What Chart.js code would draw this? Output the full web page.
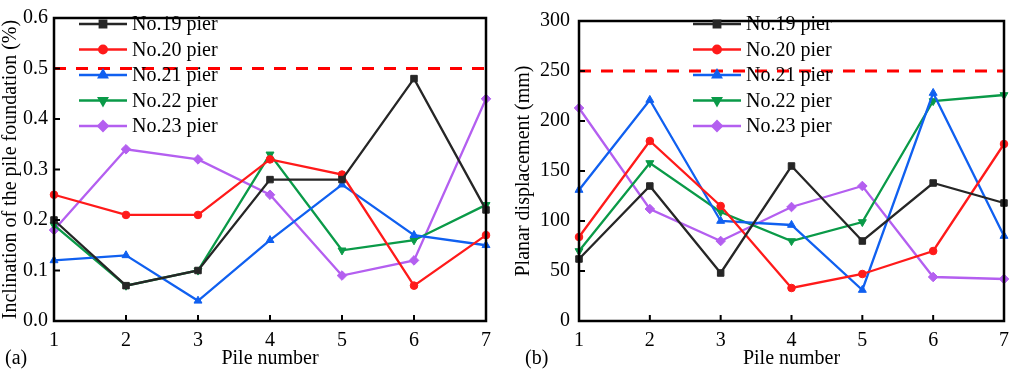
<!DOCTYPE html>
<html>
<head>
<meta charset="utf-8">
<script src="https://cdn.jsdelivr.net/npm/chart.js@4.4.1/dist/chart.umd.min.js"></script>
<style>
    html, body { margin: 0; padding: 0; background: #fff; font-family: "Liberation Serif", serif; }
    #wrap { position: relative; width: 1017px; height: 373px; overflow: hidden; }
    #boxA { position: absolute; left: 0; top: 0; width: 505px; height: 373px; }
    #boxB { position: absolute; left: 505px; top: 0; width: 512px; height: 373px; }
    #aquece { position: absolute; left: -999px; top: 0; font: 20px "Liberation Serif"; }
</style>
</head>
<body>
<div id="wrap">
    <div id="boxA"><canvas id="graficoInclinacao" width="505" height="373"></canvas></div>
    <div id="boxB"><canvas id="graficoDeslocamento" width="512" height="373"></canvas></div>
</div>
<span id="aquece">Pile number 0.123456789</span>
<script>
// --- Dados ---
const pileNumbers = ['1', '2', '3', '4', '5', '6', '7'];
const pierNames = ['No.19 pier', 'No.20 pier', 'No.21 pier', 'No.22 pier', 'No.23 pier'];

// (a) inclinação (%)
const incl19 = [0.20, 0.07, 0.10, 0.28, 0.28, 0.48, 0.22];
const incl20 = [0.25, 0.21, 0.21, 0.32, 0.29, 0.07, 0.17];
const incl21 = [0.12, 0.13, 0.04, 0.16, 0.27, 0.17, 0.15];
const incl22 = [0.19, 0.07, 0.10, 0.33, 0.14, 0.16, 0.23];
const incl23 = [0.18, 0.34, 0.32, 0.25, 0.09, 0.12, 0.44];
const inclLimit = 0.5;

// (b) deslocamento planar (mm)
const desl19 = [62, 135, 48, 155, 80, 138, 118];
const desl20 = [84, 180, 115, 33, 47, 70, 177];
const desl21 = [131, 221, 100, 96, 31, 228, 85];
const desl22 = [70, 158, 109, 80, 99, 220, 226];
const desl23 = [213, 112, 80, 114, 135, 44, 42];
const deslLimit = 250;

// --- Estilo ---
const SERIF = '"Liberation Serif", "Times New Roman", serif';
const pierColors = ['#262626', '#ff1a1a', '#1060f0', '#0a9a48', '#b45ff0'];
const pierMarkers = ['rect', 'circle', 'triangle', 'triangle', 'rectRot'];
const pierRotation = [0, 0, 0, 180, 0];
const pierRadius = [4.6, 3.8, 4.6, 4.6, 4.8];

function montarSeries(series) {
    return series.map((vals, i) => ({
        label: pierNames[i],
        data: vals,
        borderColor: pierColors[i],
        backgroundColor: pierColors[i],
        borderWidth: 2.3,
        pointStyle: pierMarkers[i],
        pointRotation: pierRotation[i],
        pointRadius: pierRadius[i],
        pointBorderWidth: 1,
        tension: 0
    }));
}

// moldura, ticks internos, linha limite, legenda e rótulo do painel
const moldura = {
    id: 'moldura',
    beforeDatasetsDraw(chart, args, o) {
        const { ctx, chartArea: a } = chart;
        const py = chart.scales.y.getPixelForValue(o.limite);
        ctx.save();
        ctx.strokeStyle = '#ff0000';
        ctx.lineWidth = 3;
        ctx.setLineDash([12, 10]);
        ctx.beginPath();
        ctx.moveTo(a.left, py);
        ctx.lineTo(a.right, py);
        ctx.stroke();
        ctx.restore();
    },
    afterDraw(chart, args, o) {
        const { ctx, chartArea: a } = chart;
        const x = chart.scales.x, y = chart.scales.y;
        ctx.save();
        ctx.strokeStyle = '#000';
        ctx.lineWidth = 2.5;
        ctx.strokeRect(a.left, a.top, a.right - a.left, a.bottom - a.top);
        ctx.lineWidth = 2;
        ctx.beginPath();
        x.ticks.forEach((t, i) => {
            const px = x.getPixelForTick(i);
            ctx.moveTo(px, a.bottom);
            ctx.lineTo(px, a.bottom - 6);
        });
        y.ticks.forEach((t, i) => {
            const py = y.getPixelForTick(i);
            ctx.moveTo(a.left, py);
            ctx.lineTo(a.left + 6, py);
        });
        ctx.stroke();

        // legenda
        ctx.font = '20px ' + SERIF;
        ctx.textBaseline = 'middle';
        ctx.textAlign = 'left';
        chart.data.datasets.forEach((ds, i) => {
            const ly = o.legendaY + i * 25.5;
            ctx.strokeStyle = ds.borderColor;
            ctx.fillStyle = ds.borderColor;
            ctx.lineWidth = 2.3;
            ctx.beginPath();
            ctx.moveTo(o.legendaX, ly);
            ctx.lineTo(o.legendaX + 48, ly);
            ctx.stroke();
            Chart.helpers.drawPoint(ctx, {
                pointStyle: ds.pointStyle, radius: ds.pointRadius,
                rotation: ds.pointRotation, borderWidth: 1
            }, o.legendaX + 24, ly);
            ctx.fillStyle = '#000';
            ctx.fillText(ds.label, o.legendaX + 53, ly + 1);
        });

        ctx.fillStyle = '#000';
        ctx.fillText(o.painel, o.painelX, 359);
        ctx.restore();
    }
};

function montarOpcoes(cfg) {
    return {
        responsive: false,
        animation: false,
        devicePixelRatio: 1,
        layout: { padding: { top: 9, right: cfg.direita, left: 0, bottom: 0 } },
        plugins: {
            legend: { display: false },
            tooltip: { enabled: false },
            moldura: { limite: cfg.limite, legendaX: cfg.legendaX, legendaY: 24, painel: cfg.painel, painelX: cfg.painelX }
        },
        scales: {
            x: {
                offset: false,
                grid: { display: false, drawTicks: false },
                border: { display: false },
                ticks: { color: '#000', font: { family: SERIF, size: 20 }, padding: 8, maxRotation: 0 },
                title: { display: true, text: 'Pile number', color: '#000',
                         font: { family: SERIF, size: 20, lineHeight: 1 }, padding: { top: 0, bottom: 4 } },
                afterFit(s) { s.height = 52; }
            },
            y: {
                min: 0, max: cfg.max,
                grid: { display: false, drawTicks: false },
                border: { display: false },
                ticks: { stepSize: cfg.passo, color: '#000', font: { family: SERIF, size: 20 },
                         padding: cfg.tickPad, callback: cfg.formato },
                title: { display: true, text: cfg.tituloY, color: '#000',
                         font: { family: SERIF, size: 20, lineHeight: 1 }, padding: { top: cfg.tituloPad, bottom: 0 } },
                afterFit(s) { s.width = cfg.largura; }
            }
        }
    };
}

function desenhar() {
    // --- (a) Inclinação ---
    new Chart(document.getElementById('graficoInclinacao'), {
        type: 'line',
        data: { labels: pileNumbers, datasets: montarSeries([incl19, incl20, incl21, incl22, incl23]) },
        options: montarOpcoes({
            max: 0.6, passo: 0.1, formato: v => v.toFixed(1), limite: inclLimit,
            tituloY: 'Inclination of the pile foundation (%)', tituloPad: 1,
            largura: 54, direita: 19, tickPad: 6, legendaX: 79, painel: '(a)', painelX: 5
        }),
        plugins: [moldura]
    });

    // --- (b) Deslocamento planar ---
    new Chart(document.getElementById('graficoDeslocamento'), {
        type: 'line',
        data: { labels: pileNumbers, datasets: montarSeries([desl19, desl20, desl21, desl22, desl23]) },
        options: montarOpcoes({
            max: 300, passo: 50, formato: v => String(v), limite: deslLimit,
            tituloY: 'Planar displacement (mm)', tituloPad: 9,
            largura: 74, direita: 6, tickPad: 9, legendaX: 188, painel: '(b)', painelX: 20
        }),
        plugins: [moldura]
    });
}

document.fonts.load('20px "Liberation Serif"').then(desenhar, desenhar);
</script>
</body>
</html>
